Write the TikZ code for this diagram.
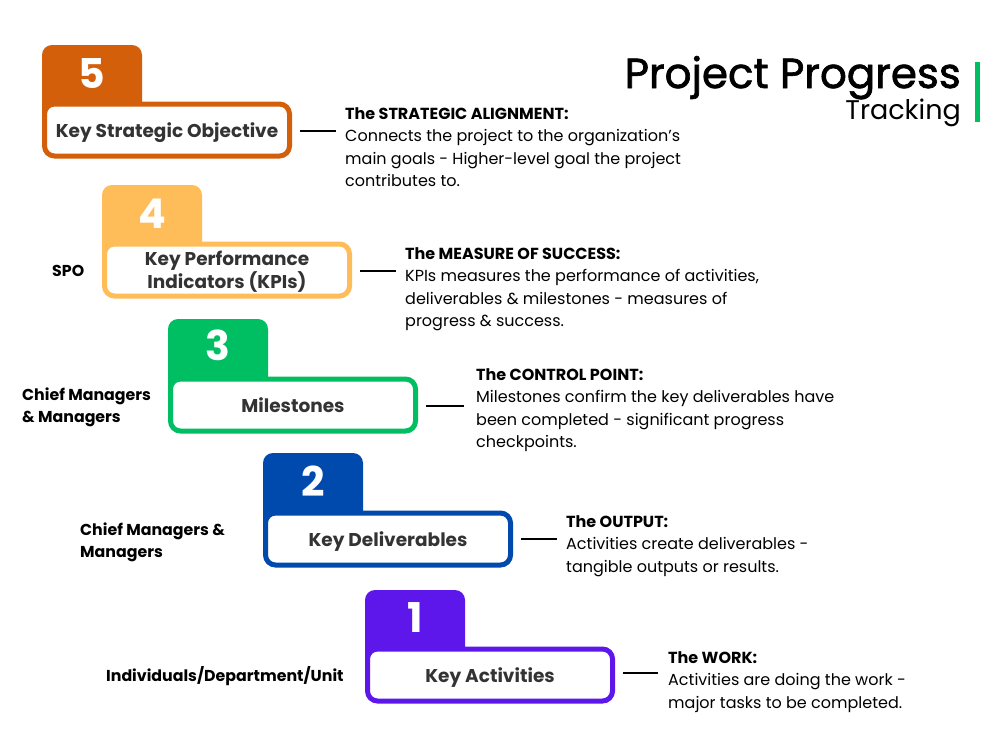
\documentclass[tikz,border=0pt]{standalone}
\usepackage{fontspec}
\setmainfont{Poppins}
\newfontfamily\titlefont{Poppins}[FakeBold=1.6]
\usepackage{tikz}
\usetikzlibrary{positioning}
\definecolor{StepFive}{HTML}{D35F0B}
\definecolor{StepFour}{HTML}{FFBD59}
\definecolor{StepThree}{HTML}{00BF63}
\definecolor{StepTwo}{HTML}{004AAD}
\definecolor{StepOne}{HTML}{5E17EB}
\definecolor{BoxText}{HTML}{333333}

\begin{document}
\begin{tikzpicture}[x=1pt,y=-1pt,
  box/.style={draw=#1,line width=5pt,rounded corners=10pt,fill=white,minimum width=245pt,minimum height=52pt,inner sep=0pt,text depth=0pt,align=center,text=BoxText,font=\bfseries\fontsize{18.5}{23}\selectfont},
  tab/.style={fill=#1,rounded corners=10pt},
  num/.style={text=white,text depth=0pt,font=\bfseries\fontsize{41}{41}\selectfont},
  desc/.style={anchor=north west,align=left,inner sep=0pt,font=\fontsize{16}{22.5}\selectfont},
  who/.style={anchor=west,align=left,inner sep=0pt,font=\bfseries\fontsize{15.8}{22}\selectfont},
  link/.style={line width=1.6pt}]
  \useasboundingbox[fill=white] (0,0) rectangle (1000,750);

  % title
  \node (title) [anchor=base east,inner sep=0pt,text depth=0pt,font=\titlefont\fontsize{42}{42}\selectfont] at (961,88) {Project Progress};
  \node (sub) [anchor=base east,inner sep=0pt,font=\fontsize{27}{27}\selectfont] at (961,119) {Tracking};
  \fill[StepThree] (975,62) rectangle (980,122);

  % tabs
  \fill[tab=StepFive] (42,45) rectangle (142,125);
  \fill[tab=StepFour] (102,185) rectangle (202,265);
  \fill[tab=StepThree] (168,319) rectangle (268,399);
  \fill[tab=StepTwo] (263,453) rectangle (363,533);
  \fill[tab=StepOne] (365,590) rectangle (465,670);
  \node (n5) [num] at (92,74) {5};
  \node (n4) [num] at (152,214) {4};
  \node (n3) [num] at (218,345) {3};
  \node (n2) [num] at (313,481) {2};
  \node (n1) [num] at (415,618) {1};

  % boxes
  \node (k5) [box=StepFive] at (167,130) {Key Strategic Objective};
  \node (k4) [box=StepFour] at (227,270) {Key Performance\\Indicators (KPIs)};
  \node (k3) [box=StepThree] at (293,405) {Milestones};
  \node (k2) [box=StepTwo] at (388,539) {Key Deliverables};
  \node (k1) [box=StepOne] at (490,675) {Key Activities};

  % who owns each level
  \node (w4) [who] at (52,271) {SPO};
  \node (w3) [who] at (22,407) {Chief Managers\\\& Managers};
  \node (w2) [who] at (80,542) {Chief Managers \&\\Managers};
  \node (w1) [who] at (106,676) {Individuals/Department/Unit};

  % descriptions
  \node (d5) [desc] at (345,107) {\textbf{The STRATEGIC ALIGNMENT:}\\Connects the project to the organization’s\\main goals - Higher-level goal the project\\contributes to.};
  \node (d4) [desc] at (405,247) {\textbf{The MEASURE OF SUCCESS:}\\KPIs measures the performance of activities,\\deliverables \& milestones - measures of\\progress \& success.};
  \node (d3) [desc] at (476,368) {\textbf{The CONTROL POINT:}\\Milestones confirm the key deliverables have\\been completed - significant progress\\checkpoints.};
  \node (d2) [desc] at (566,515) {\textbf{The OUTPUT:}\\Activities create deliverables -\\tangible outputs or results.};
  \node (d1) [desc] at (668,651) {\textbf{The WORK:}\\Activities are doing the work -\\major tasks to be completed.};

  \coordinate (e5) at (336,131);
  \coordinate (e4) at (396,271);
  \coordinate (e3) at (464,406);
  \coordinate (e2) at (557,539);
  \coordinate (e1) at (658,673);
  \draw[link] ([xshift=8pt]k5.east|-e5) -- (e5);
  \draw[link] ([xshift=8pt]k4.east|-e4) -- (e4);
  \draw[link] ([xshift=8pt]k3.east|-e3) -- (e3);
  \draw[link] ([xshift=8pt]k2.east|-e2) -- (e2);
  \draw[link] ([xshift=8pt]k1.east|-e1) -- (e1);
\end{tikzpicture}
\end{document}
